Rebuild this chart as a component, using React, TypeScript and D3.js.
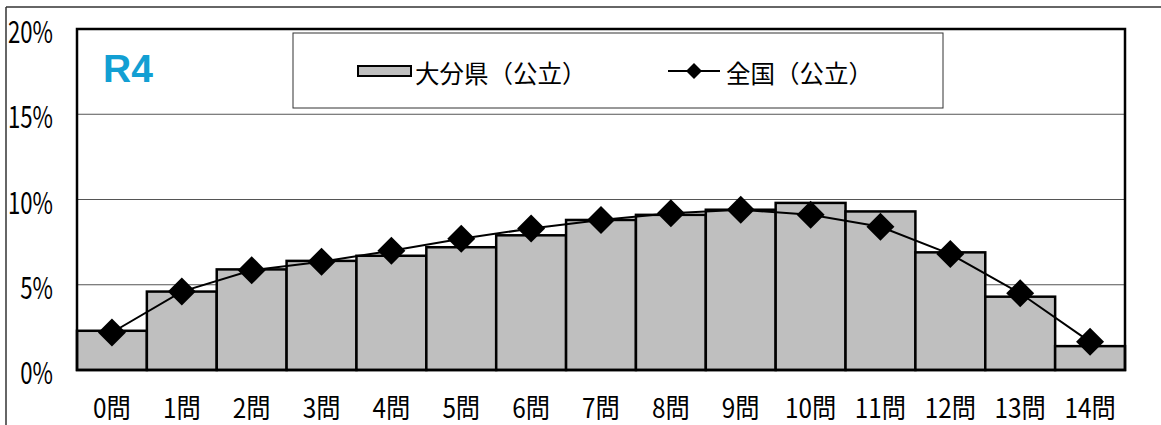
import React from "react";
import * as d3 from "d3";

const categories = ["0問","1問","2問","3問","4問","5問","6問","7問","8問","9問","10問","11問","12問","13問","14問"];
const oitaValues = [2.3, 4.6, 5.9, 6.4, 6.7, 7.2, 7.9, 8.8, 9.1, 9.4, 9.8, 9.3, 6.9, 4.3, 1.4];
const nationalValues = [2.2, 4.6, 5.85, 6.35, 7.0, 7.7, 8.3, 8.8, 9.2, 9.4, 9.1, 8.4, 6.8, 4.5, 1.65];
const yTicks = [0, 5, 10, 15, 20];
const seriesNames = ["大分県（公立）", "全国（公立）"];
const titleText = "R4";

const W = 1161, H = 425;
const plot = { left: 77, right: 1125, top: 29, bottom: 370 };
const FONT = "'Noto Sans CJK JP', 'Noto Sans', sans-serif";

export default function App() {
  const x = d3.scaleBand<string>().domain(categories).range([plot.left, plot.right]).padding(0);
  const y = d3.scaleLinear().domain([0, 20]).range([plot.bottom, plot.top]);
  const line = d3.line<number>()
    .x((_, i) => (x(categories[i]) as number) + x.bandwidth() / 2)
    .y((d) => y(d));
  const diamond = (cx: number, cy: number, r: number) =>
    `M${cx},${cy - r}L${cx + r},${cy}L${cx},${cy + r}L${cx - r},${cy}Z`;

  return (
    <svg width={W} height={H} style={{ position: "absolute", left: 0, top: 0, background: "#fff" }}>
      {/* outer frame */}
      <line x1={6} y1={7} x2={W} y2={7} stroke="#333" strokeWidth={1.5} />
      <line x1={6} y1={7} x2={6} y2={H} stroke="#333" strokeWidth={1.5} />

      {/* gridlines */}
      {yTicks.map((t) => (
        <line key={t} x1={plot.left} x2={plot.right} y1={y(t)} y2={y(t)} stroke="#555" strokeWidth={1} />
      ))}

      {/* bars */}
      {oitaValues.map((v, i) => (
        <rect key={i} x={x(categories[i])} y={y(v)} width={x.bandwidth()} height={y(0) - y(v)}
          fill="#bfbfbf" stroke="#000" strokeWidth={2.5} />
      ))}

      {/* plot border */}
      <rect x={plot.left} y={plot.top} width={plot.right - plot.left} height={plot.bottom - plot.top}
        fill="none" stroke="#000" strokeWidth={2.5} />

      {/* national line */}
      <path d={line(nationalValues) as string} fill="none" stroke="#000" strokeWidth={2} />
      {nationalValues.map((v, i) => (
        <path key={i} d={diamond((x(categories[i]) as number) + x.bandwidth() / 2, y(v), 14)} fill="#000" />
      ))}

      {/* y tick labels */}
      {yTicks.map((t) => (
        <text key={t} transform={`translate(53,${y(t) + 1}) scale(0.74,1)`} textAnchor="end" dominantBaseline="central"
          fontFamily={FONT} fontSize={30} fill="#000">{`${t}%`}</text>
      ))}

      {/* x tick labels */}
      {categories.map((c) => (
        <text key={c} transform={`translate(${(x(c) as number) + x.bandwidth() / 2},406) scale(0.9,1)`}
          textAnchor="middle" dominantBaseline="central"
          fontFamily={FONT} fontSize={27} fill="#000">{c}</text>
      ))}

      {/* title */}
      <text x={103} y={82} fontFamily="'Liberation Sans', Arial, sans-serif" fontWeight="bold" fontSize={39} fill="#129fd3">{titleText}</text>

      {/* legend */}
      <rect x={293} y={33} width={650} height={75} fill="#fff" stroke="#333" strokeWidth={1} />
      <rect x={358} y={66} width={53} height={10} fill="#bfbfbf" stroke="#000" strokeWidth={2} />
      <text x={415} y={72} dominantBaseline="central" fontFamily={FONT} fontSize={24.5} fill="#000">{seriesNames[0]}</text>
      <line x1={668} x2={720} y1={71} y2={71} stroke="#000" strokeWidth={2} />
      <path d={diamond(694, 71, 8)} fill="#000" />
      <text x={726} y={72} dominantBaseline="central" fontFamily={FONT} fontSize={24.5} fill="#000">{seriesNames[1]}</text>
    </svg>
  );
}
